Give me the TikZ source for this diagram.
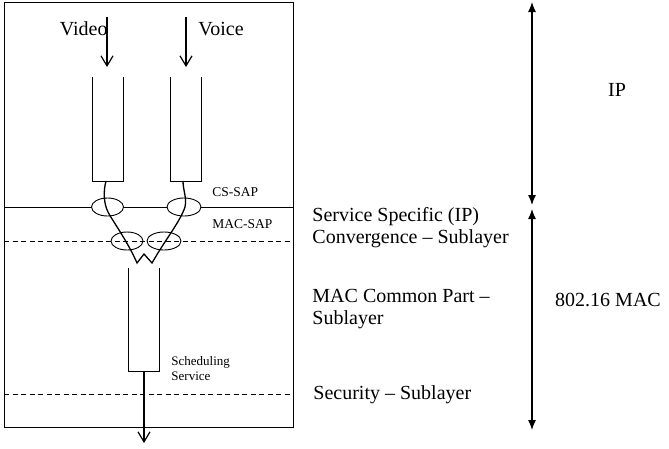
\documentclass[tikz,border=0pt]{standalone}
\usepackage{fontspec}
\setmainfont{Liberation Serif}
\usetikzlibrary{arrows.meta,shapes.geometric}

\tikzset{
  sap/.style={ellipse,draw,line width=0.9pt,minimum width=32pt,minimum height=18pt,inner sep=0},
  lbl/.style={inner sep=0,anchor=west,align=left,font=\labelfontsize},
  saplbl/.style={inner sep=0,anchor=west,align=left,font=\sapfontsize},
  dashline/.style={dash pattern=on 5pt off 3.5pt},
  flow/.style={line width=1.3pt},
  feed/.style={line width=1.2pt,-{Straight Barb[length=10pt,width=12pt]}},
  span/.style={line width=1.2pt,{Latex[length=10pt,width=8pt]}-{Latex[length=10pt,width=8pt]}}
}

\begin{document}
\begin{tikzpicture}[x=1pt,y=-1pt,line width=0.9pt]
    \pgfmathsetmacro{\boxleft}{4}
    \pgfmathsetmacro{\boxright}{293}
    \pgfmathsetmacro{\boxtop}{2}
    \pgfmathsetmacro{\boxbottom}{427}
    \pgfmathsetmacro{\csline}{207}
    \pgfmathsetmacro{\macline}{241}
    \pgfmathsetmacro{\secline}{394}
    \pgfmathsetmacro{\stackx}{532}
    \providecommand{\labelfontsize}{\fontsize{20}{22}\selectfont}
    \providecommand{\sapfontsize}{\fontsize{13.5}{15}\selectfont}
    \providecommand{\schedfontsize}{\fontsize{13}{15}\selectfont}
    \useasboundingbox (0,0) rectangle (669,448);
    % layer box
    \draw (\boxleft,\boxtop) rectangle (\boxright,\boxbottom);
    \draw (\boxleft,\csline) -- (\boxright,\csline);
    \node[sap,fill=white] (sapvid) at (107.5,\csline) {};
    \node[sap,fill=white,minimum width=34pt] (sapvoi) at (184,\csline) {};
    \draw[dashline] (\boxleft,\macline) -- (\boxright,\macline);
    \draw[dashline] (\boxleft,\secline) -- (\boxright,\secline);
    \node[sap] (macvid) at (127,\macline) {};
    \node[sap,minimum width=34pt] (macvoi) at (164,\macline) {};
    % queues
    \draw (92,77) |- (123,181) -- (123,77);
    \draw (170,77) |- (201,181) -- (201,77);
    \draw (128,268) |- (159,371) -- (159,268);
    \coordinate (vidin) at (107,17);
    \coordinate (vidtop) at (107,67);
    \coordinate (voiin) at (186,17);
    \coordinate (voitop) at (186,67);
    \coordinate (vidbot) at (106,181);
    \coordinate (voibot) at (183,181);
    \coordinate (wleft) at (137,263);
    \coordinate (wpeak) at (144,254);
    \coordinate (wright) at (152,263);
    \coordinate (schbot) at (144,371);
    \coordinate (schout) at (144,443);
    \draw[feed] (vidin) -- (vidtop);
    \draw[feed] (voiin) -- (voitop);
    \draw[flow] (vidbot) .. controls (103,192) and (104,204) .. (108,212)
        .. controls (112,220) and (128,242) .. (wleft) -- (wpeak) -- (wright)
        .. controls (165,240) and (180,222) .. (185,207)
        .. controls (187,198) and (183,190) .. (voibot);
    \draw[feed] (schbot) -- (schout);
    % layer span
    \coordinate (iptop) at (\stackx,2);
    \coordinate (ipbot) at (\stackx,205);
    \coordinate (mactop) at (\stackx,209);
    \coordinate (macbot) at (\stackx,430);
    \draw[span] (iptop) -- (ipbot);
    \draw[span] (mactop) -- (macbot);
    % labels
    \node[lbl,anchor=east] (video) at (108,29) {Video};
    \node[lbl] (voice) at (198,29) {Voice};
    \node[saplbl] (cssap) at (212,192) {CS-SAP};
    \node[saplbl] (macsap) at (212,224) {MAC-SAP};
    \node[saplbl,font=\schedfontsize] (sched) at (171,369) {Scheduling\\Service};
    \node[lbl] (sscs) at (312,228) {Service Specific (IP)\\Convergence – Sublayer};
    \node[lbl] (mcps) at (312,309) {MAC Common Part –\\Sublayer};
    \node[lbl] (secs) at (313,395) {Security – Sublayer};
    \node[lbl,anchor=center] (ip) at (617,90) {IP};
    \node[lbl,anchor=center] (mac) at (608,300) {802.16 MAC};
\end{tikzpicture}
\end{document}
